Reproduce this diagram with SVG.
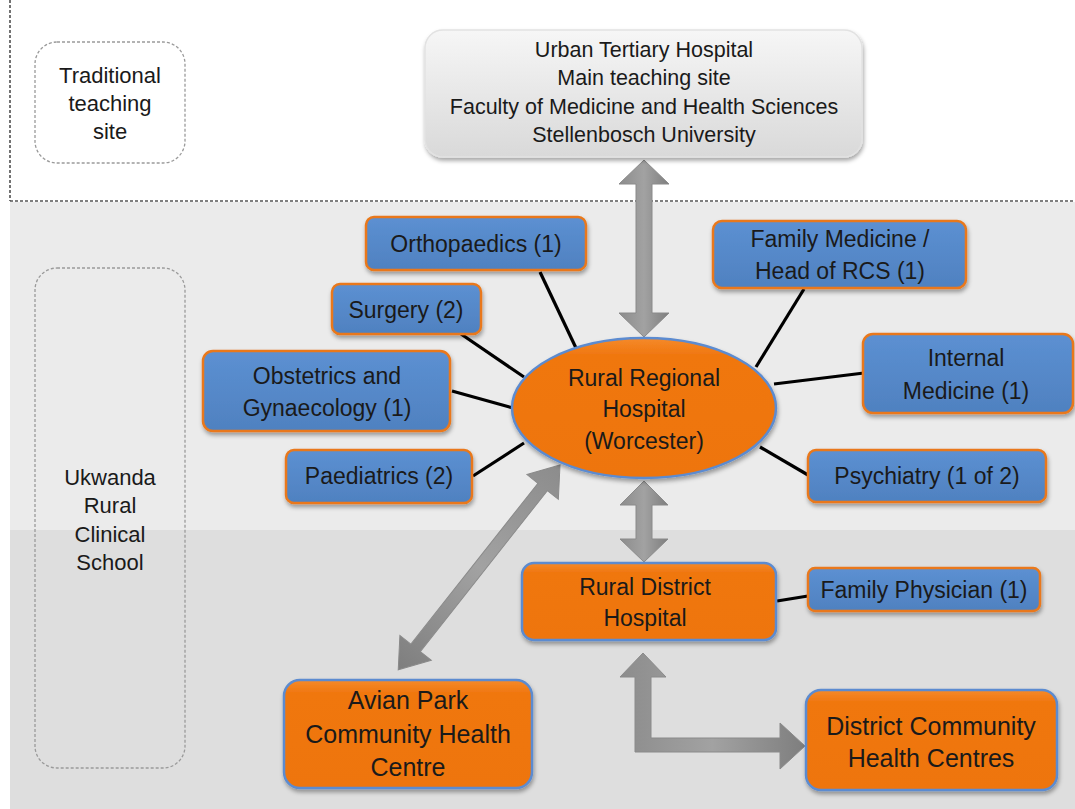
<svg xmlns="http://www.w3.org/2000/svg" width="1075" height="809" viewBox="0 0 1075 809">
<style>
text{font-family:"Liberation Sans",Arial,sans-serif;fill:#1a1a1a;text-anchor:middle;dominant-baseline:central}
.t21{font-size:21.5px}
.t22{font-size:22px}
.t23{font-size:23px}
.t25{font-size:25px}
.blue{fill:url(#gBlue);stroke:#e9781a;stroke-width:2.5;filter:url(#sh)}
.org{fill:url(#gOrg);stroke:#5b8bd0;stroke-width:2.5;filter:url(#sh)}
.link{stroke:#000;stroke-width:3.2;fill:none}
.arr{fill:url(#gArr);stroke:#8a8a8a;stroke-width:1}
.dash{fill:none;stroke:#9a9a9a;stroke-width:1.3;stroke-dasharray:3 2}
</style>
<defs>
<linearGradient id="gBlue" x1="0" y1="0" x2="0" y2="1"><stop offset="0" stop-color="#5c90d2"/><stop offset="1" stop-color="#4f81c0"/></linearGradient>
<linearGradient id="gOrg" x1="0" y1="0" x2="0" y2="1"><stop offset="0" stop-color="#f58a2a"/><stop offset="0.12" stop-color="#f07710"/><stop offset="1" stop-color="#ee7510"/></linearGradient>
<linearGradient id="gGray" x1="0" y1="0" x2="0" y2="1"><stop offset="0" stop-color="#f6f6f6"/><stop offset="1" stop-color="#d9d9d9"/></linearGradient>
<linearGradient id="gArr" x1="0" y1="0" x2="1" y2="0"><stop offset="0" stop-color="#8c8c8c"/><stop offset="0.5" stop-color="#a2a2a2"/><stop offset="1" stop-color="#7e7e7e"/></linearGradient>
<filter id="sh" x="-10%" y="-10%" width="120%" height="130%"><feDropShadow dx="1" dy="3" stdDeviation="2" flood-color="#000" flood-opacity="0.35"/></filter>
</defs>

<g id="background">
<rect x="0" y="0" width="1075" height="809" fill="#ffffff"/>
<rect x="10" y="202" width="1065" height="328" fill="#ebebeb"/>
<rect x="10" y="530" width="1065" height="279" fill="#dedede"/>
<line x1="10" y1="0" x2="10" y2="201" stroke="#444" stroke-width="1.5" stroke-dasharray="3 2"/>
<line x1="10" y1="201" x2="1075" y2="201" stroke="#555" stroke-width="1.5" stroke-dasharray="3 2"/>
</g>

<g id="traditional">
<rect x="35" y="42" width="150" height="121" rx="22" class="dash" fill="#fff"/>
<text class="t22" x="110" y="75">Traditional</text>
<text class="t22" x="110" y="103">teaching</text>
<text class="t22" x="110" y="131">site</text>
</g>

<g id="ukwanda">
<rect x="35" y="268" width="150" height="500" rx="22" class="dash"/>
<text class="t22" x="110" y="477">Ukwanda</text>
<text class="t22" x="110" y="505">Rural</text>
<text class="t22" x="110" y="534">Clinical</text>
<text class="t22" x="110" y="562">School</text>
</g>

<g id="connectors">
<line class="link" x1="540" y1="272" x2="576" y2="348"/>
<line class="link" x1="461" y1="334" x2="524" y2="377"/>
<line class="link" x1="452" y1="391" x2="513" y2="408"/>
<line class="link" x1="473" y1="476" x2="524" y2="443"/>
<line class="link" x1="804" y1="289" x2="756" y2="367"/>
<line class="link" x1="774" y1="384" x2="864" y2="373"/>
<line class="link" x1="760" y1="447" x2="808" y2="475"/>
<line class="link" x1="777" y1="601" x2="808" y2="596"/>
<polygon class="arr" points="644,160 669,184 652,184 652,313 669,313 644,337 619,313 636,313 636,184 619,184"/>
<polygon class="arr" points="644,481 668,505 652,505 652,539 668,539 644,562 620,539 636,539 636,505 620,505"/>
<polygon class="arr" transform="translate(560,465) rotate(128.3)" points="0,0 28,-20 28,-6 233,-6 233,-20 261,0 233,20 233,6 28,6 28,20"/>
<polygon class="arr" points="643,653 666,677 651,677 651,738 780,738 780,723 805,746 780,769 780,752 635,752 635,677 620,677"/>
</g>

<g id="urban">
<rect x="425" y="30" width="437" height="127" rx="18" fill="url(#gGray)" stroke="#e2e2e2" stroke-width="1.5" filter="url(#sh)"/>
<text class="t21" x="644" y="50">Urban Tertiary Hospital</text>
<text class="t21" x="644" y="78">Main teaching site</text>
<text class="t21" x="644" y="107">Faculty of Medicine and Health Sciences</text>
<text class="t21" x="644" y="135">Stellenbosch University</text>
</g>

<g id="orthopaedics">
<rect class="blue" x="366" y="217" width="220" height="53" rx="8"/>
<text class="t23" x="476" y="244">Orthopaedics (1)</text>
</g>
<g id="surgery">
<rect class="blue" x="332" y="284" width="149" height="50" rx="8"/>
<text class="t23" x="406" y="310">Surgery (2)</text>
</g>
<g id="obstetrics">
<rect class="blue" x="203" y="351" width="247" height="80" rx="10"/>
<text class="t23" x="327" y="376">Obstetrics and</text>
<text class="t23" x="327" y="408">Gynaecology (1)</text>
</g>
<g id="paediatrics">
<rect class="blue" x="286" y="450" width="186" height="53" rx="8"/>
<text class="t23" x="379" y="476">Paediatrics (2)</text>
</g>
<g id="familymedicine">
<rect class="blue" x="713" y="221" width="253" height="67" rx="9"/>
<text class="t23" x="840" y="239">Family Medicine /</text>
<text class="t23" x="840" y="271">Head of RCS (1)</text>
</g>
<g id="internal">
<rect class="blue" x="863" y="334" width="210" height="79" rx="10"/>
<text class="t23" x="966" y="358">Internal</text>
<text class="t23" x="966" y="391">Medicine (1)</text>
</g>
<g id="psychiatry">
<rect class="blue" x="808" y="450" width="238" height="52" rx="8"/>
<text class="t23" x="927" y="476">Psychiatry (1 of 2)</text>
</g>
<g id="familyphysician">
<rect class="blue" x="808" y="568" width="232" height="43" rx="7"/>
<text class="t23" x="924" y="590">Family Physician (1)</text>
</g>

<g id="regional">
<ellipse class="org" cx="644" cy="408" rx="132" ry="70"/>
<text class="t23" x="644" y="378">Rural Regional</text>
<text class="t23" x="644" y="409">Hospital</text>
<text class="t23" x="644" y="441">(Worcester)</text>
</g>
<g id="district">
<rect class="org" x="522" y="563" width="254" height="77" rx="12"/>
<text class="t23" x="645" y="587">Rural District</text>
<text class="t23" x="645" y="618">Hospital</text>
</g>
<g id="avian">
<rect class="org" x="284" y="680" width="248" height="108" rx="16"/>
<text class="t25" x="408" y="700">Avian Park</text>
<text class="t25" x="408" y="734">Community Health</text>
<text class="t25" x="408" y="767">Centre</text>
</g>
<g id="districtchc">
<rect class="org" x="806" y="690" width="251" height="100" rx="15"/>
<text class="t25" x="931" y="726">District Community</text>
<text class="t25" x="931" y="758">Health Centres</text>
</g>
</svg>
